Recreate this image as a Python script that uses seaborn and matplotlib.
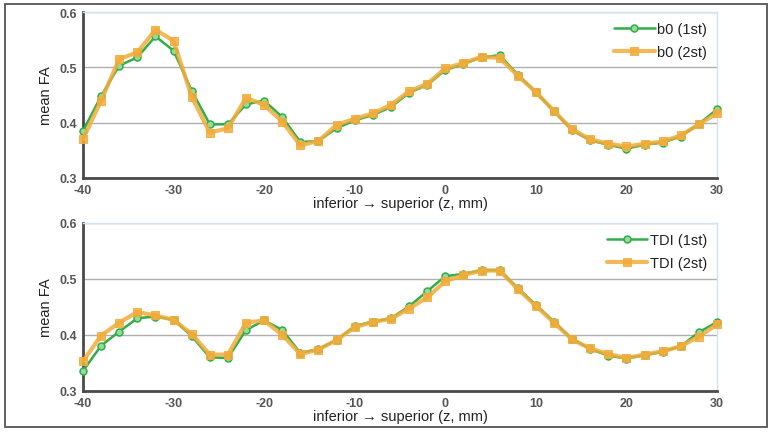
import numpy as np
import pandas as pd
import matplotlib
matplotlib.use("Agg")
import matplotlib.pyplot as plt
from matplotlib.patches import Rectangle
import seaborn as sns

z = list(range(-40, 31, 2))

b0_1st = [0.385, 0.448, 0.503, 0.518, 0.556, 0.530, 0.458, 0.397, 0.397, 0.433,
          0.440, 0.410, 0.365, 0.367, 0.390, 0.404, 0.414, 0.428, 0.454, 0.468,
          0.495, 0.506, 0.518, 0.522, 0.487, 0.455, 0.421, 0.386, 0.368, 0.360,
          0.353, 0.360, 0.364, 0.375, 0.398, 0.424]
b0_2st = [0.370, 0.440, 0.515, 0.527, 0.568, 0.548, 0.447, 0.382, 0.390, 0.445,
          0.432, 0.402, 0.359, 0.367, 0.396, 0.407, 0.417, 0.432, 0.457, 0.470,
          0.498, 0.508, 0.519, 0.517, 0.485, 0.455, 0.421, 0.388, 0.370, 0.362,
          0.357, 0.362, 0.366, 0.377, 0.397, 0.417]
tdi_1st = [0.336, 0.381, 0.406, 0.430, 0.433, 0.427, 0.398, 0.360, 0.359, 0.409,
           0.426, 0.409, 0.368, 0.375, 0.391, 0.416, 0.424, 0.430, 0.451, 0.478,
           0.505, 0.509, 0.516, 0.516, 0.484, 0.454, 0.424, 0.393, 0.375, 0.363,
           0.358, 0.364, 0.370, 0.380, 0.405, 0.423]
tdi_2st = [0.353, 0.399, 0.422, 0.441, 0.435, 0.427, 0.402, 0.365, 0.365, 0.422,
           0.426, 0.400, 0.366, 0.374, 0.391, 0.414, 0.423, 0.429, 0.447, 0.467,
           0.496, 0.507, 0.515, 0.515, 0.482, 0.452, 0.422, 0.392, 0.376, 0.366,
           0.359, 0.365, 0.371, 0.380, 0.397, 0.419]

panels = [
    ("b0 (1st)", "b0 (2st)", b0_1st, b0_2st),
    ("TDI (1st)", "TDI (2st)", tdi_1st, tdi_2st),
]
xticks = [-40, -30, -20, -10, 0, 10, 20, 30]
yticks = [0.3, 0.4, 0.5, 0.6]
xlabel = "inferior \u2192 superior (z, mm)"
ylabel = "mean FA"

sns.set_theme(style="white")
plt.rcParams['font.family'] = ['Liberation Sans', 'DejaVu Sans']
plt.rcParams['axes.unicode_minus'] = False

GREEN = "#2fae4a"
GREEN_FILL = "#9ad99a"
ORANGE = "#f2ac3a"

fig = plt.figure(figsize=(7.72, 4.35), dpi=100)
fig.patches.append(Rectangle((5 / 772, 1 - 428 / 435), 762 / 772, 423 / 435,
                             transform=fig.transFigure, fill=False,
                             edgecolor="#555555", linewidth=1.3, zorder=0))

positions = [
    [83 / 772, 1 - 179 / 435, 634 / 772, 166 / 435],
    [83 / 772, 1 - 392 / 435, 634 / 772, 168 / 435],
]

for pos, (l1, l2, s1, s2) in zip(positions, panels):
    ax = fig.add_axes(pos)
    df = pd.DataFrame({"z": z, "a": s1, "b": s2})
    sns.lineplot(data=df, x="z", y="a", ax=ax, color=GREEN, lw=1.8,
                 marker="o", markersize=5, markerfacecolor=GREEN_FILL,
                 markeredgecolor=GREEN, markeredgewidth=1.1, label=l1,
                 zorder=3, clip_on=False)
    sns.lineplot(data=df, x="z", y="b", ax=ax, color=ORANGE, lw=3.0,
                 alpha=0.85, marker="s", markersize=5.5,
                 markerfacecolor=ORANGE, markeredgecolor=ORANGE,
                 label=l2, zorder=4, clip_on=False)
    ax.set_xlim(-40, 30)
    ax.set_ylim(0.3, 0.6)
    ax.set_xticks(xticks)
    ax.set_xticklabels([str(v) for v in xticks])
    ax.set_yticks(yticks)
    ax.set_yticklabels([f"{v:.1f}" for v in yticks])
    ax.yaxis.grid(True, color="#b0b0b0", lw=1.0)
    ax.set_axisbelow(True)
    for s in ["top", "right"]:
        ax.spines[s].set_color("#d3e2ee")
        ax.spines[s].set_linewidth(1.0)
    for s in ["left", "bottom"]:
        ax.spines[s].set_color("#4a4a4a")
        ax.spines[s].set_linewidth(2.0)
    ax.tick_params(axis="both", direction="inout", length=6, width=1.2,
                   color="#4a4a4a", labelsize=9, labelcolor="#555555", pad=1)
    for t in ax.get_xticklabels() + ax.get_yticklabels():
        t.set_fontweight("bold")
    ax.set_xlabel(xlabel, fontsize=10.5, color="#222222", labelpad=0)
    ax.set_ylabel(ylabel, fontsize=10.5, color="#222222", labelpad=5)
    leg = ax.legend(loc="upper right", frameon=False, fontsize=10.5,
                    labelspacing=0.6, handlelength=2.8, handletextpad=0.15,
                    borderaxespad=0.3, bbox_to_anchor=(1.0, 1.0))
    for txt in leg.get_texts():
        txt.set_color("#222222")

fig.savefig("out.png", dpi=100)
